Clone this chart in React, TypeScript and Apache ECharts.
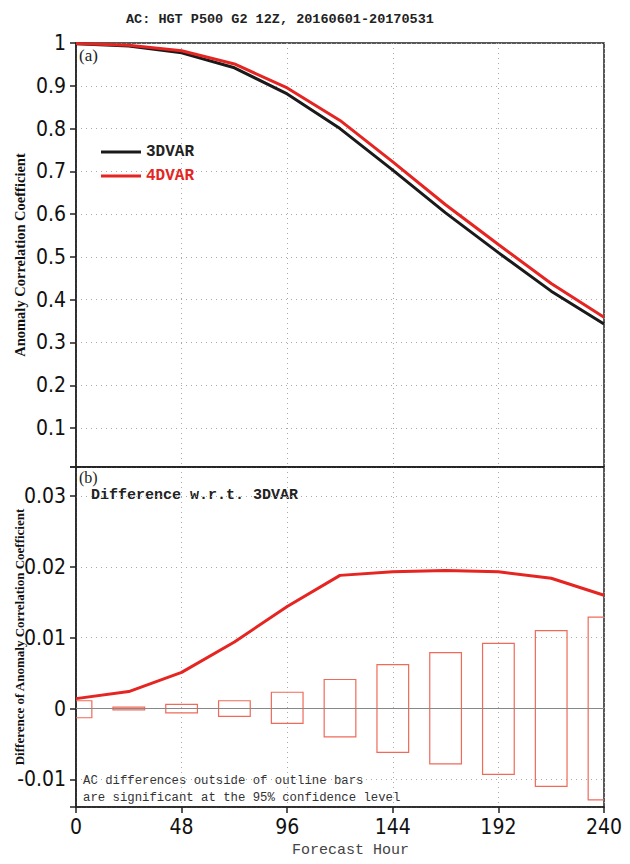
import React, { useEffect, useRef } from "react";
import * as echarts from "echarts";

const hours = [0, 24, 48, 72, 96, 120, 144, 168, 192, 216, 240];
const ac3dvar = [0.998, 0.993, 0.977, 0.942, 0.881, 0.8, 0.703, 0.603, 0.51, 0.42, 0.343];
const ac4dvar = [0.999, 0.995, 0.982, 0.951, 0.895, 0.819, 0.722, 0.622, 0.529, 0.438, 0.359];
const acDiff = [0.0014, 0.0024, 0.0051, 0.0094, 0.0144, 0.0188, 0.0193, 0.0195, 0.0193, 0.0184, 0.016];
const sigLower = [-0.0013, -0.0002, -0.0006, -0.0011, -0.0021, -0.004, -0.0062, -0.0078, -0.0093, -0.011, -0.0129];
const sigUpper = [0.0011, 0.0002, 0.0006, 0.0011, 0.0023, 0.0041, 0.0062, 0.0079, 0.0092, 0.011, 0.0129];

const TITLE = "AC: HGT P500 G2 12Z, 20160601-20170531";
const NOTE1 = "AC differences outside of outline bars";
const NOTE2 = "are significant at the 95% confidence level";

const BAR_HALF = 7.2;
const RED = "#e52521";
const BOX = "#ef6a5a";
const MONO = "'Liberation Mono', 'DejaVu Sans Mono', monospace";
const NUM = "'DejaVu Sans Condensed', 'Liberation Sans Narrow', 'Liberation Sans', sans-serif";
const SERIF = "'Liberation Serif', 'DejaVu Serif', serif";

export default function App() {
  const ref = useRef<HTMLDivElement>(null);
  useEffect(() => {
    if (!ref.current) return;
    const chart = echarts.init(ref.current, undefined, { renderer: "svg" });
    const dotted = { color: "#aaa", width: 1, type: [1, 4] as any };
    const gridBase = {
      left: 76, right: 26, show: true, borderColor: "#222", borderWidth: 1.5,
      containLabel: false, outerBoundsMode: "none",
    };
    const axisLine = { show: true, onZero: false, lineStyle: { color: "#222", width: 1.5 } };
    const tick = { show: true, length: 6, lineStyle: { color: "#222", width: 1.5 } };
    const pair = (ys: number[]) => hours.map((h, i) => [h, ys[i]]);
    const option: any = {
      animation: false,
      backgroundColor: "#fff",
      grid: [
        { ...gridBase, top: 43, height: 424 },
        { ...gridBase, top: 467, height: 340 },
      ],
      xAxis: [
        {
          gridIndex: 0, type: "value", min: 0, max: 240, interval: 48,
          axisLine, axisTick: { show: false }, axisLabel: { show: false },
          splitLine: { show: true, lineStyle: dotted },
        },
        {
          gridIndex: 1, type: "value", min: 0, max: 240, interval: 48,
          axisLine, axisTick: tick,
          axisLabel: {
            show: true, margin: 9, fontFamily: NUM, fontSize: 21, color: "#111",
          },
          splitLine: { show: true, lineStyle: dotted },
        },
      ],
      yAxis: [
        {
          gridIndex: 0, type: "value", min: 0.009, max: 1, splitNumber: 10,
          name: "Anomaly Correlation Coefficient", nameLocation: "middle", nameGap: 49,
          nameMoveOverlap: false,
          nameTextStyle: { fontFamily: SERIF, fontWeight: "bold", fontSize: 14.5, color: "#111" },
          axisLine, axisTick: tick,
          axisLabel: {
            show: true, margin: 10, fontFamily: NUM, fontSize: 21, color: "#111",
            formatter: (v: number) => (v < 0.05 ? "" : String(Math.round(v * 10) / 10)),
          },
          splitLine: { show: true, lineStyle: dotted },
        },
        {
          gridIndex: 1, type: "value", min: -0.0139, max: 0.0341, splitNumber: 5,
          name: "Difference of Anomaly Correlation Coefficient", nameLocation: "middle", nameGap: 50,
          nameMoveOverlap: false,
          nameTextStyle: { fontFamily: SERIF, fontWeight: "bold", fontSize: 13, color: "#111" },
          axisLine, axisTick: tick,
          axisLabel: {
            show: true, margin: 10, fontFamily: NUM, fontSize: 21, color: "#111",
            formatter: (v: number) => {
              const r = Math.round(v * 100) / 100;
              return Math.abs(r - v) > 1e-6 ? "" : String(r);
            },
          },
          splitLine: { show: true, lineStyle: dotted },
        },
      ],
      legend: {
        left: 96, top: 139, orient: "vertical", icon: "rect", itemWidth: 40, itemHeight: 3,
        itemGap: 8,
        textStyle: { fontFamily: MONO, fontSize: 16, fontWeight: "bold", lineHeight: 16 },
        data: [
          { name: "3DVAR", textStyle: { color: "#222" } },
          { name: "4DVAR", textStyle: { color: RED } },
        ],
      },
      series: [
        {
          name: "3DVAR", type: "line", xAxisIndex: 0, yAxisIndex: 0, data: pair(ac3dvar),
          showSymbol: false, symbol: "none", lineStyle: { color: "#1a1a1a", width: 3 }, itemStyle: { color: "#1a1a1a" },
        },
        {
          name: "4DVAR", type: "line", xAxisIndex: 0, yAxisIndex: 0, data: pair(ac4dvar),
          showSymbol: false, symbol: "none", lineStyle: { color: RED, width: 3 }, itemStyle: { color: RED },
        },
        {
          name: "bars", type: "custom", xAxisIndex: 1, yAxisIndex: 1, clip: true,
          data: hours.map((h, i) => [h, sigLower[i], sigUpper[i]]),
          renderItem: (params: any, api: any) => {
            const x = api.value(0), lo = api.value(1), hi = api.value(2);
            const p1 = api.coord([x - BAR_HALF, hi]);
            const p2 = api.coord([x + BAR_HALF, lo]);
            return {
              type: "rect",
              shape: { x: p1[0], y: p1[1], width: p2[0] - p1[0], height: Math.max(p2[1] - p1[1], 0.5) },
              style: { fill: "none", stroke: BOX, lineWidth: 1.2 },
            };
          },
        },
        {
          name: "diff", type: "line", xAxisIndex: 1, yAxisIndex: 1, data: pair(acDiff),
          showSymbol: false, symbol: "none", lineStyle: { color: RED, width: 3 }, z: 5,
          markLine: {
            silent: true, symbol: "none", label: { show: false },
            lineStyle: { color: "#888", width: 1, type: "solid" },
            data: [{ yAxis: 0 }],
          },
        },
      ],
      graphic: [
        { type: "text", left: 126, top: 12, style: { text: TITLE, font: `bold 13.5px ${MONO}`, fill: "#222" } },
        { type: "text", left: 79, top: 47, style: { text: "(a)", font: `17px ${SERIF}`, fill: "#222" } },
        { type: "text", left: 79, top: 469, style: { text: "(b)", font: `16px ${SERIF}`, fill: "#222" } },
        { type: "text", left: 91, top: 488, style: { text: "Difference w.r.t. 3DVAR", font: `bold 15px ${MONO}`, fill: "#222" } },
        { type: "text", left: 83, top: 775, style: { text: NOTE1, font: `12.3px ${MONO}`, fill: "#333" } },
        { type: "text", left: 83, top: 792, style: { text: NOTE2, font: `12.3px ${MONO}`, fill: "#333" } },
        { type: "text", left: 292, top: 843, style: { text: "Forecast Hour", font: `15px ${MONO}`, fill: "#444" } },
      ],
    };
    chart.setOption(option);
    return () => chart.dispose();
  }, []);
  return <div ref={ref} style={{ position: "fixed", left: 0, top: 0, width: 630, height: 864 }} />;
}
